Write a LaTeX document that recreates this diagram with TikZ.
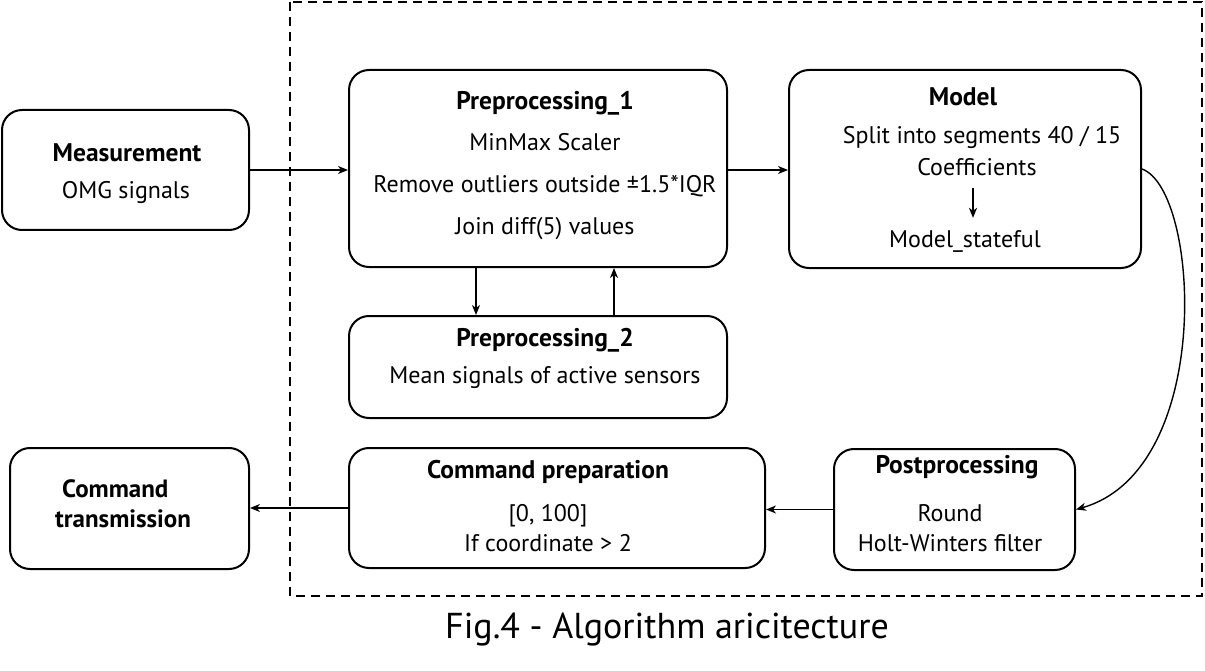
\documentclass[tikz,border=0pt]{standalone}
\usepackage{fontspec}
\setmainfont{PT Sans}
\usetikzlibrary{arrows.meta,positioning}
\tikzset{
    algobox/.style={draw, line width=2pt, rounded corners=20pt, inner sep=0pt},
    algotitle/.style={align=center, font=\bfseries\fontsize{25.5}{30}\selectfont, inner sep=0pt},
    algotext/.style={align=center, font=\fontsize{24}{30}\selectfont, inner sep=0pt},
    algoarrow/.style={-{Stealth[length=10pt, width=8pt, inset=3pt]}, line width=1.4pt},
    algoframe/.style={draw, line width=1.8pt, dash pattern=on 9pt off 6pt},
    algonote/.style={align=center, font=\fontsize{36}{40}\selectfont, inner sep=0pt}
}
\begin{document}
\begin{tikzpicture}[x=1pt, y=-1pt]
    \useasboundingbox (0,0) rectangle (1205,671);
    \draw[algoframe] (290,2) rectangle (1202,596);
    % boxes
    \node[algobox, minimum width=247pt, minimum height=120pt] (meas) at (125.5,170) {};
    \node[algobox, minimum width=378pt, minimum height=197pt] (pre1) at (538,168.5) {};
    \node[algobox, minimum width=352pt, minimum height=198pt] (model) at (965,169) {};
    \node[algobox, minimum width=378pt, minimum height=102pt] (pre2) at (538,367) {};
    \node[algobox, minimum width=241pt, minimum height=121pt] (post) at (954.5,509.5) {};
    \node[algobox, minimum width=416pt, minimum height=120pt] (cmdprep) at (557,508) {};
    \node[algobox, minimum width=239pt, minimum height=121pt] (cmdtx) at (129.5,508.5) {};
    % texts
    \node[algotitle] (meastitle) at (127,153) {Measurement};
    \node[algotext] (meastext) at (126,193) {OMG signals};
    \node[algotitle] (pre1title) at (545,103) {Preprocessing\_1};
    \node[algotext] (pre1text) at (545,187) {MinMax Scaler\\[12pt]Remove outliers outside ±1.5*IQR\\[12pt]Join diff(5) values};
    \node[algotitle] (modeltitle) at (963,97) {Model};
    \node[algotext] (split) at (982,138) {Split into segments 40 / 15};
    \node[algotext] (coef) at (977,167) {Coefficients};
    \node[algotext] (stateful) at (965,241) {Model\_stateful};
    \node[algotitle] (pre2title) at (545,340) {Preprocessing\_2};
    \node[algotext] (pre2text) at (545,378) {Mean signals of active sensors};
    \node[algotitle] (posttitle) at (957,467) {Postprocessing};
    \node[algotext] (posttext) at (950,528) {Round\\Holt-Winters filter};
    \node[algotitle] (cmdpreptitle) at (548,472) {Command preparation};
    \node[algotext] (cmdpreptext) at (548,528) {[0, 100]\\If coordinate > 2};
    \node[algotitle, font=\bfseries\fontsize{25}{30}\selectfont, align=left, anchor=west] (cmdtxtext) at (55,504) {\hspace*{7pt}Command\\transmission};
    \node[algonote] (caption) at (667,630) {Fig.4 - Algorithm aricitecture};
    % connectors
    \draw[algoarrow] (meas.east) -- (meas.east -| pre1.west);
    \draw[algoarrow] (pre1.east |- meas.east) -- (model.west |- meas.east);
    \draw[algoarrow] ([xshift=-62pt]pre1.south) -- ([xshift=-62pt]pre2.north);
    \draw[algoarrow] ([xshift=76pt]pre2.north) -- ([xshift=76pt]pre1.south);
    \draw[algoarrow, line width=2.2pt, shorten <=12pt, shorten >=12pt] ([xshift=-4pt]coef.south) -- ([xshift=8pt]stateful.north);
    \draw[algoarrow] (model.east) .. controls (1200,190) and (1215,470) .. (post.east);
    \draw[algoarrow] (post.west) -- (post.west -| cmdprep.east);
    \draw[algoarrow] (cmdprep.west) -- (cmdprep.west -| cmdtx.east);
\end{tikzpicture}
\end{document}
